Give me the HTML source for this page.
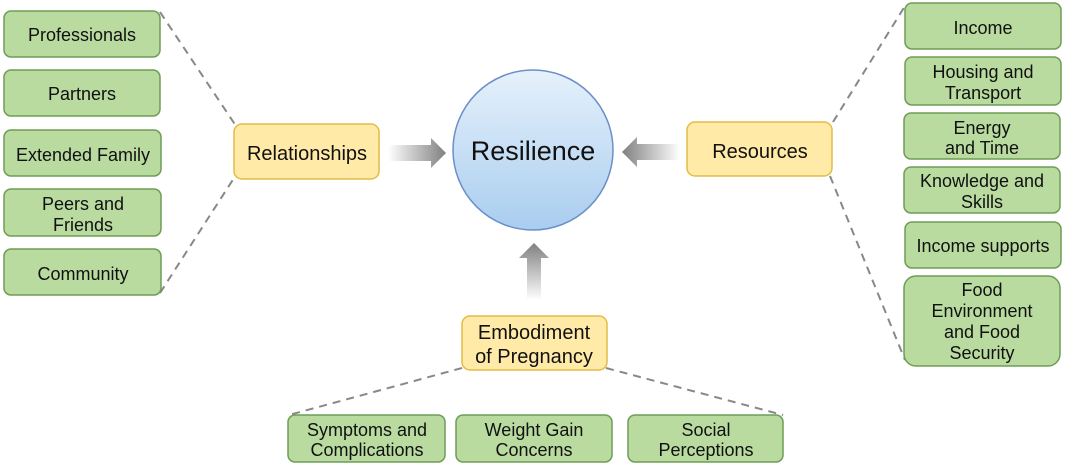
<!DOCTYPE html>
<html><head><meta charset="utf-8"><style>
html,body{margin:0;padding:0;background:#fff;}
svg{display:block;}
text{font-family:"Liberation Sans",Arial,sans-serif;fill:#111;}
</style></head><body>
<svg width="1066" height="466" viewBox="0 0 1066 466" xmlns="http://www.w3.org/2000/svg">
<defs>
<linearGradient id="circ" x1="0" y1="0" x2="0" y2="1"><stop offset="0" stop-color="#e6f1fb"/><stop offset="1" stop-color="#a9cdef"/></linearGradient>
<linearGradient id="ar" x1="0" y1="0" x2="1" y2="0"><stop offset="0" stop-color="#fff"/><stop offset="1" stop-color="#808080"/></linearGradient>
<linearGradient id="al" x1="1" y1="0" x2="0" y2="0"><stop offset="0" stop-color="#fff"/><stop offset="1" stop-color="#808080"/></linearGradient>
<linearGradient id="au" x1="0" y1="1" x2="0" y2="0"><stop offset="0" stop-color="#fff"/><stop offset="1" stop-color="#808080"/></linearGradient>
</defs>
<g stroke="#888" stroke-width="2" stroke-dasharray="8,6" fill="none">
<line x1="160" y1="12" x2="236" y2="126"/>
<line x1="160" y1="293" x2="234" y2="178"/>
<line x1="833" y1="122" x2="905" y2="6"/>
<line x1="830" y1="176" x2="905" y2="360"/>
<line x1="462" y1="368" x2="289" y2="415"/>
<line x1="606" y1="368" x2="783" y2="415"/>
</g>
<g fill="#b9dba0" stroke="#6f9d55" stroke-width="1.5">
<rect x="4" y="11" width="156" height="46" rx="7"/>
<rect x="4" y="70" width="156" height="46" rx="7"/>
<rect x="4" y="130" width="157" height="46" rx="7"/>
<rect x="4" y="189" width="157" height="47" rx="7"/>
<rect x="4" y="249" width="157" height="46" rx="7"/>
<rect x="905" y="3" width="156" height="46" rx="7"/>
<rect x="905" y="57" width="156" height="48" rx="7"/>
<rect x="904" y="113" width="156" height="46" rx="7"/>
<rect x="904" y="167" width="156" height="46" rx="7"/>
<rect x="905" y="222" width="156" height="46" rx="7"/>
<rect x="904" y="276" width="156" height="90" rx="12"/>
<rect x="288" y="415" width="157" height="47" rx="7"/>
<rect x="456" y="415" width="156" height="47" rx="7"/>
<rect x="628" y="415" width="155" height="47" rx="7"/>
</g>
<g fill="#ffeaa7" stroke="#e3bb46" stroke-width="1.5">
<rect x="234" y="124" width="145" height="55" rx="8"/>
<rect x="687" y="122" width="145" height="54" rx="8"/>
<rect x="462" y="316" width="145" height="54" rx="8"/>
</g>
<circle cx="533" cy="150" r="80" fill="url(#circ)" stroke="#6b8fc8" stroke-width="1.5"/>
<polygon points="388,145 431,145 431,138 446,153 431,168 431,161 388,161" fill="url(#ar)"/>
<polygon points="680,144 637,144 637,137 622,152 637,167 637,160 680,160" fill="url(#al)"/>
<polygon points="527,300 527,258 519,258 534,243 549,258 541,258 541,300" fill="url(#au)"/>
<g font-size="18" text-anchor="middle">
<text x="82" y="41">Professionals</text>
<text x="82" y="100">Partners</text>
<text x="83" y="161">Extended Family</text>
<text x="83" y="210">Peers and</text><text x="83" y="231">Friends</text>
<text x="83" y="280">Community</text>
<text x="983" y="34">Income</text>
<text x="983" y="78">Housing and</text><text x="983" y="99">Transport</text>
<text x="982" y="134">Energy</text><text x="982" y="154">and Time</text>
<text x="982" y="187">Knowledge and</text><text x="982" y="208">Skills</text>
<text x="983" y="252">Income supports</text>
<text x="982" y="296">Food</text><text x="982" y="317">Environment</text><text x="982" y="338">and Food</text><text x="982" y="359">Security</text>
<text x="367" y="436">Symptoms and</text><text x="367" y="456">Complications</text>
<text x="534" y="436">Weight Gain</text><text x="534" y="456">Concerns</text>
<text x="706" y="436">Social</text><text x="706" y="456">Perceptions</text>
</g>
<g font-size="20" text-anchor="middle">
<text x="307" y="160">Relationships</text>
<text x="760" y="158">Resources</text>
<text x="534" y="339">Embodiment</text><text x="534" y="363">of Pregnancy</text>
</g>
<text x="533" y="160" font-size="27" text-anchor="middle">Resilience</text>
</svg>
</body></html>
